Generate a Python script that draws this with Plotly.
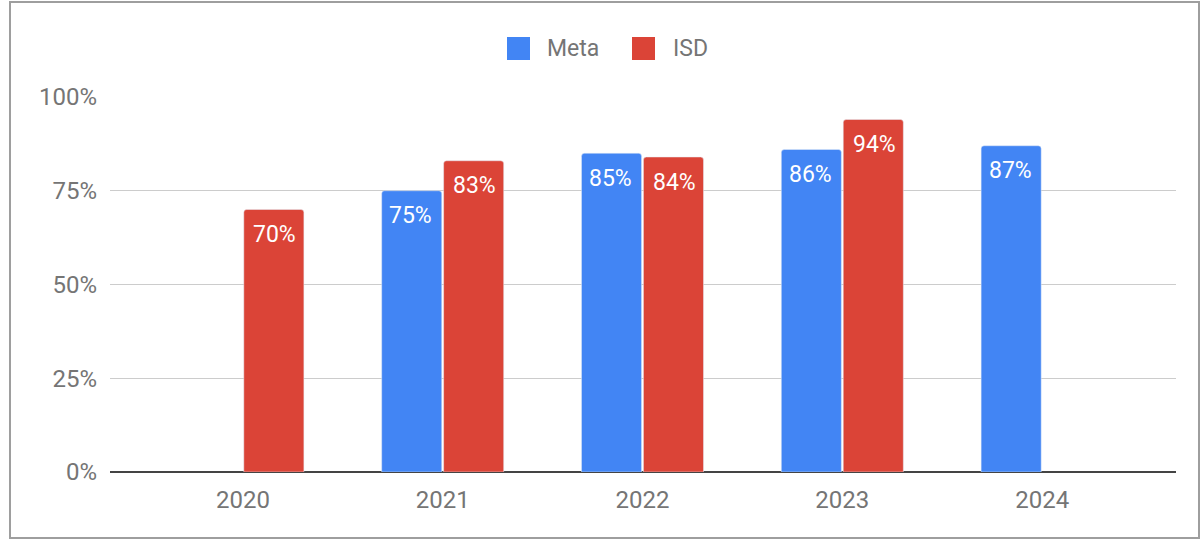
import plotly.graph_objects as go

years = ["2020", "2021", "2022", "2023", "2024"]
meta = [None, 75, 85, 86, 87]
isd = [70, 83, 84, 94, None]
y_ticks = [0, 25, 50, 75, 100]
y_tick_labels = ["0%", "25%", "50%", "75%", "100%"]

blue = "#4285F4"
red = "#DB4437"
gray_text = "#757575"

fig = go.Figure()
fig.add_trace(go.Bar(name="Meta", x=years, y=meta, marker=dict(color=blue, cornerradius=3),
                     showlegend=False))
fig.add_trace(go.Bar(name="ISD", x=years, y=isd, marker=dict(color=red, cornerradius=3),
                     showlegend=False))

# plot area: x 110..1176, y 97..472 (px)
def px_x(x):
    return (x - 110) / 1066

def px_y(y):
    return (472 - y) / 375

shapes = [
    # outer chart border
    dict(type="rect", xref="paper", yref="paper",
         x0=px_x(10), x1=px_x(1199), y0=px_y(538), y1=px_y(2),
         line=dict(color="#9E9E9E", width=2), layer="below"),
    # legend swatches
    dict(type="rect", xref="paper", yref="paper",
         x0=px_x(507), x1=px_x(530), y0=px_y(60), y1=px_y(37),
         fillcolor=blue, line=dict(width=0)),
    dict(type="rect", xref="paper", yref="paper",
         x0=px_x(632), x1=px_x(655), y0=px_y(60), y1=px_y(37),
         fillcolor=red, line=dict(width=0)),
]
annotations = [
    dict(text="Meta", xref="paper", yref="paper", x=px_x(545), y=px_y(48.5),
         xanchor="left", yanchor="middle", showarrow=False,
         font=dict(size=23, color=gray_text)),
    dict(text="ISD", xref="paper", yref="paper", x=px_x(671), y=px_y(48.5),
         xanchor="left", yanchor="middle", showarrow=False,
         font=dict(size=23, color=gray_text)),
]

# value labels inside the top of each bar (category index on the x axis)
for series, shift in ((meta, -32), (isd, 32)):
    for i, v in enumerate(series):
        if v is None:
            continue
        annotations.append(dict(
            x=i, y=v, xref="x", yref="y", text=f"{v}%", showarrow=False,
            xshift=shift, yshift=-25, yanchor="middle",
            font=dict(size=23, color="white"),
        ))

fig.update_layout(
    width=1203, height=540,
    margin=dict(l=110, r=27, t=97, b=68),
    paper_bgcolor="white", plot_bgcolor="white",
    font=dict(family="Roboto, Arial, sans-serif", size=23, color=gray_text),
    barmode="group", bargap=0.38, bargroupgap=0.03,
    shapes=shapes, annotations=annotations,
)
fig.update_xaxes(
    type="category", range=[-0.665, 4.67], showgrid=False, showline=False, ticks="",
    tickfont=dict(size=24, color=gray_text), ticklabelstandoff=11,
)
fig.update_yaxes(
    range=[0, 100], tickvals=y_ticks, ticktext=y_tick_labels,
    showgrid=True, gridcolor="#CCCCCC", gridwidth=1,
    zeroline=True, zerolinecolor="#444444", zerolinewidth=2,
    showline=False, ticks="", ticklabelstandoff=12,
    tickfont=dict(size=24, color=gray_text),
)

fig.write_html("out.html", config={"displayModeBar": False},
               post_script="document.body.style.margin='0';")
